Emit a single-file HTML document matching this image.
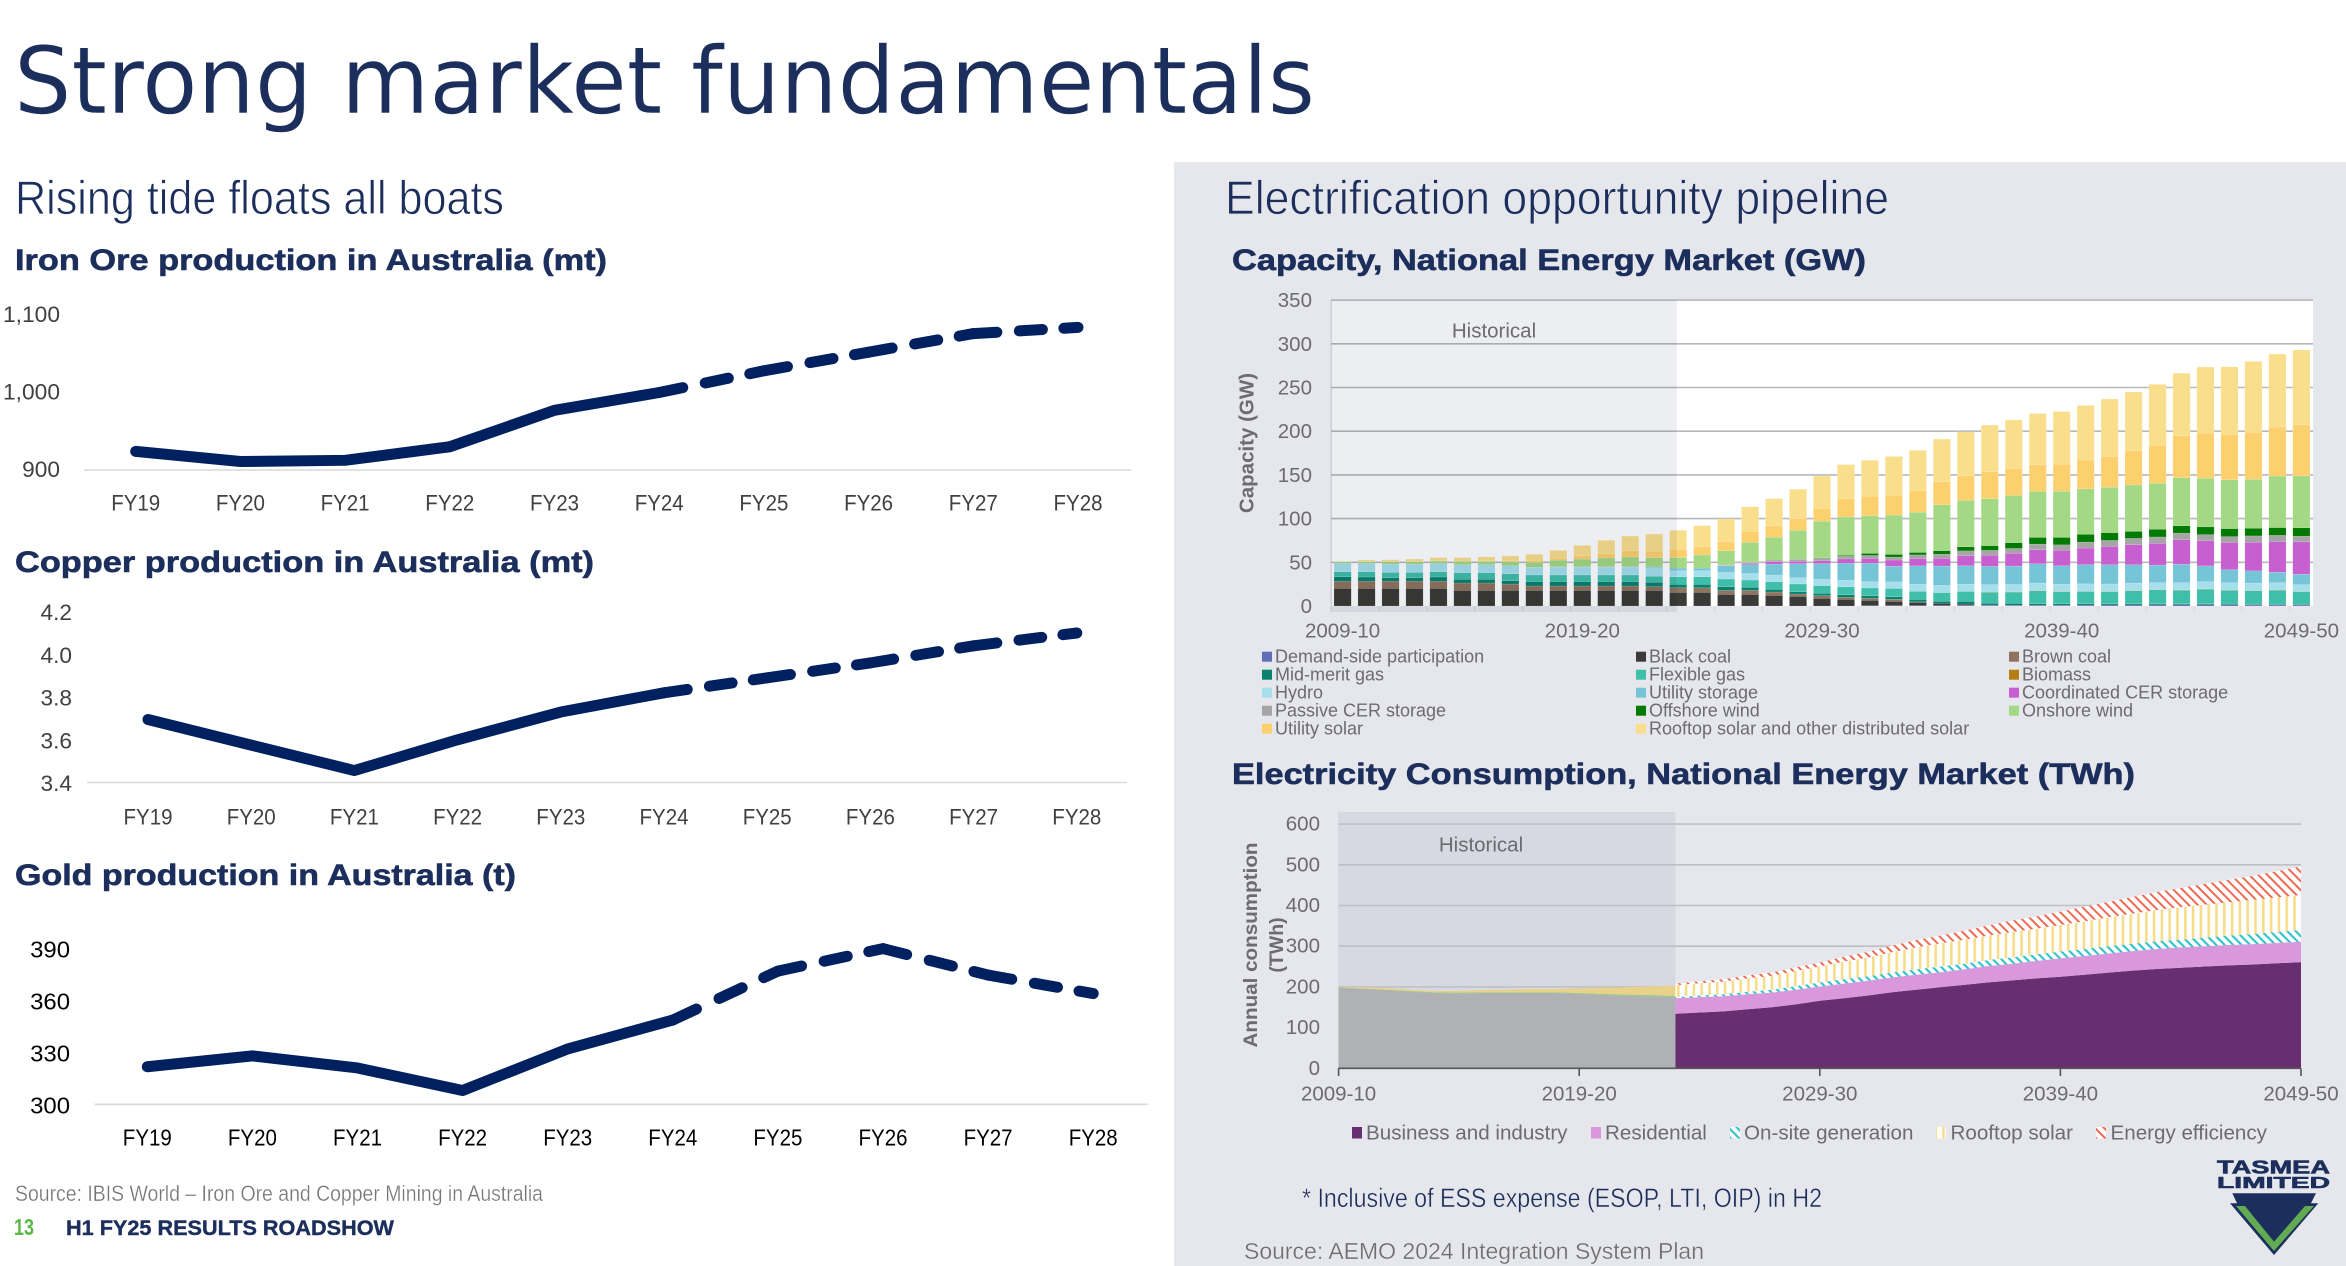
<!DOCTYPE html>
<html lang="en">
<head>
<meta charset="utf-8">
<title>Strong market fundamentals</title>
<style>
html,body{margin:0;padding:0;background:#fff;}
svg{display:block;}
text{font-family:"Liberation Sans",sans-serif;}
.navy{fill:#1c2f5c;}
.bold{font-weight:700;font-size:30px;stroke:#1c2f5c;stroke-width:.6px;}
</style>
</head>
<body>
<svg id="slide" xmlns="http://www.w3.org/2000/svg" width="2346" height="1266" viewBox="0 0 2346 1266">
  <defs>
    <pattern id="p-onsite" patternUnits="userSpaceOnUse" width="6" height="6" patternTransform="rotate(45)">
      <rect width="6" height="6" fill="#fff"/><rect width="6" height="2.2" fill="#35c3cb"/>
    </pattern>
    <pattern id="p-rooftop" patternUnits="userSpaceOnUse" width="7.8" height="8">
      <rect width="7.8" height="8" fill="#fff"/><rect width="2.6" height="8" fill="#f8dc8a"/>
    </pattern>
    <pattern id="p-ee" patternUnits="userSpaceOnUse" width="6.4" height="6.4" patternTransform="rotate(45)">
      <rect width="6.4" height="6.4" fill="#fff"/><rect width="6.4" height="2" fill="#ee6a52"/>
    </pattern>
  </defs>

  <rect x="0" y="0" width="2346" height="1266" fill="#ffffff"/>
  <rect x="1174" y="162" width="1172" height="1104" fill="#e6e7ec"/>

  <text x="14" y="113" textLength="1301" lengthAdjust="spacingAndGlyphs" style="font-family:'DejaVu Sans',sans-serif;font-size:93px;fill:#1c2f5c;stroke:#fff;stroke-width:.5px;">Strong market fundamentals</text>
  <text x="15" y="214" textLength="489" lengthAdjust="spacingAndGlyphs" style="font-size:47px;fill:#1c2f5c;stroke:#fff;stroke-width:.8px;">Rising tide floats all boats</text>
  <text x="1225" y="214" textLength="664" lengthAdjust="spacingAndGlyphs" style="font-size:47px;fill:#1c2f5c;stroke:#e6e7ec;stroke-width:.8px;">Electrification opportunity pipeline</text>

  <text class="navy bold" x="15" y="270" textLength="592" lengthAdjust="spacingAndGlyphs">Iron Ore production in Australia (mt)</text>
  <text class="navy bold" x="15" y="572" textLength="579" lengthAdjust="spacingAndGlyphs">Copper production in Australia (mt)</text>
  <text class="navy bold" x="15" y="885" textLength="501" lengthAdjust="spacingAndGlyphs">Gold production in Australia (t)</text>
  <text class="navy bold" x="1232" y="270" textLength="634" lengthAdjust="spacingAndGlyphs">Capacity, National Energy Market (GW)</text>
  <text class="navy bold" x="1232" y="784" textLength="903" lengthAdjust="spacingAndGlyphs">Electricity Consumption, National Energy Market (TWh)</text>

  <g id="iron-chart"></g>
  <g id="copper-chart"></g>
  <g id="gold-chart"></g>
  <g id="capacity-chart"></g>
  <g id="consumption-chart"></g>

  <text x="15" y="1201" textLength="528" lengthAdjust="spacingAndGlyphs" style="font-size:22px;fill:#767676;stroke:#fff;stroke-width:.3px;">Source: IBIS World – Iron Ore and Copper Mining in Australia</text>
  <text x="14" y="1235" textLength="20" lengthAdjust="spacingAndGlyphs" style="font-size:23px;font-weight:700;fill:#5cb847;">13</text>
  <text x="66" y="1235" textLength="328" lengthAdjust="spacingAndGlyphs" style="font-size:21px;font-weight:700;fill:#1c2f5c;stroke:#1c2f5c;stroke-width:.4px;">H1 FY25 RESULTS ROADSHOW</text>

  <text x="1302" y="1207" textLength="520" lengthAdjust="spacingAndGlyphs" style="font-size:27px;fill:#1c2f5c;stroke:#e6e7ec;stroke-width:.4px;">* Inclusive of ESS expense (ESOP, LTI, OIP) in H2</text>
  <text x="1244" y="1259" textLength="460" lengthAdjust="spacingAndGlyphs" style="font-size:23px;fill:#6d6d6f;stroke:#e6e7ec;stroke-width:.3px;">Source: AEMO 2024 Integration System Plan</text>

  <g>
    <text x="2217" y="1173.5" textLength="113" lengthAdjust="spacingAndGlyphs" style="font-size:18px;font-weight:700;fill:#1c2f5c;stroke:#1c2f5c;stroke-width:.6px;">TASMEA</text>
    <text x="2217" y="1188" textLength="113" lengthAdjust="spacingAndGlyphs" style="font-size:16px;font-weight:700;fill:#1c2f5c;stroke:#1c2f5c;stroke-width:.6px;">LIMITED</text>
    <polygon points="2230,1203.3 2237,1203.3 2232.3,1193.3 2316,1193.3 2311,1203.3 2318.3,1203.3 2274,1255" fill="#1c2f5c"/>
    <polygon points="2236,1206 2245,1206 2274,1241.7 2305,1206 2314,1206 2274,1251" fill="#62ab52"/>
  </g>
</svg>

<script>
/* ---------- Left-hand line charts ---------- */
const fiscalYears = ['FY19','FY20','FY21','FY22','FY23','FY24','FY25','FY26','FY27','FY28'];
const ironValues = [924,911,912.5,930,977,1000,1028,1052,1076,1084];
const ironTicks = [900,1000,1100];
const ironTickLabels = ['900','1,000','1,100'];
const copperValues = [3.695,3.575,3.456,3.6,3.73,3.82,3.89,3.96,4.04,4.10];
const copperTicks = [3.4,3.6,3.8,4.0,4.2];
const copperTickLabels = ['3.4','3.6','3.8','4.0','4.2'];
const goldValues = [321.7,328,321,308,332,348.7,377,390,374.7,364];
const goldTicks = [300,330,360,390];
const goldTickLabels = ['300','330','360','390'];
const solidThroughIndex = 5;

/* ---------- Capacity chart (GW), stack order bottom to top ---------- */
const yearCategories = ['2009-10','2010-11','2011-12','2012-13','2013-14','2014-15','2015-16','2016-17','2017-18','2018-19','2019-20','2020-21','2021-22','2022-23','2023-24','2024-25','2025-26','2026-27','2027-28','2028-29','2029-30','2030-31','2031-32','2032-33','2033-34','2034-35','2035-36','2036-37','2037-38','2038-39','2039-40','2040-41','2041-42','2042-43','2043-44','2044-45','2045-46','2046-47','2047-48','2048-49','2049-50'];
const xTickLabels = ['2009-10','2019-20','2029-30','2039-40','2049-50'];
const capacityTicks = [0,50,100,150,200,250,300,350];
const consumptionTicks = [0,100,200,300,400,500,600];

const demandSideGW = [0,0,0,0,0,0,0,0,0,0,0,0,0,0,0,0,0,0,0,0,0,0,0.3,0.4,0.5,0.6,0.7,0.8,0.9,1,1,1.1,1.2,1.2,1.3,1.5,1.5,1.3,1.2,1.2,1.2];
const blackCoalGW = [20.2,20.2,20.2,20.2,20.2,17.9,17.9,17.9,17.9,17.9,17.9,17.9,17.9,17.9,15.6,15.6,13.3,13.3,12.2,11,8.8,7.6,6.2,4.9,3.7,2.4,1.5,0.3,0,0,0,0,0,0,0,0,0,0,0,0,0];
const brownCoalGW = [8,8,8,8,8,8.4,8.4,7.2,5,5,5,5,5,4.2,5.2,5.2,4.6,4.6,3.8,2.7,3,2.3,2.3,2.5,0.5,0,0,0,0,0,0,0,0,0,0,0,0,0,0,0,0];
const midMeritGW = [5.3,5,4.2,4.2,5,4.2,4.2,3.8,5,5,5,5,5,5,3.8,3.8,4.2,3.4,3,2.7,2.7,3,3,2.7,2.7,2.3,3,2,2,1.5,1.5,1.5,1.3,1.3,1.2,1,1,1,0.8,0.8,0.8];
const flexibleGasGW = [5.7,6,6,6,6,7.6,7.6,8,7.6,7.6,7.6,7.6,7.6,7,8.8,8.8,8.8,8.4,8.8,8.8,8.8,9,8.8,9.5,9.5,10,11.4,12.5,13,15,13.7,14,14,15,16,15.6,16.7,15.6,15.5,16,14.5];
const biomassGW = [0,0,0,0,0,0,0,0,0,0,0,0,0,0,0,0,0,0,0,0,0,0,0,0,0,0,0,0.4,0.4,0.4,0.4,0.3,0.3,0.3,0.3,0.3,0.3,0.3,0.3,0.3,0.3];
const hydroGW = [9.5,9.5,9.5,9.5,9.5,9.1,9.1,9.1,8.8,9.1,9.1,9.1,9.1,9.5,7,7,7.6,7.6,7.6,7.2,7.2,7.6,7.2,7.6,8,8.4,8.4,8.4,8.4,8.4,8.4,8.4,8.4,8.4,8,8.4,8.4,8.4,8.4,8.4,7.6];
const utilityStorageGW = [0,0,0,0,0,0,0,0,0,0.3,0.3,0.3,0.5,1,3,3,7.6,10,12.5,16,18,19.4,21,18,21,22,21,21,21,22,21,22,22,21,20,21,18,15,14,12,12];
const coordinatedCerGW = [0,0,0,0,0,0,0,0,0,0,0,0,0,0,0,0,0.5,1.5,2.7,2.7,3.4,5,5.7,7,8.4,9,11.4,12.6,14.5,16,17.5,19,21,23,25,28,28.6,31,32.8,35,37];
const passiveCerGW = [0,0,0,0,0,0,0,0,0,0,0,0,0,0,0,0,0.3,1,2,2.3,2.7,3,3.4,3.4,4.2,4.6,5.7,5.7,5.7,6.5,6.5,6.9,6.9,7.2,7.2,7.6,7.2,6.9,7.2,7.2,6.5];
const offshoreWindGW = [0,0,0,0,0,0,0,0,0,0,0,0,0,0,0,0,0,0,0,0,0.4,1,2.3,3,2.7,4,4.6,5.3,6.5,7.6,8.4,8.8,8.8,8,8.8,8.4,8.8,9,8.8,8.8,9.5];
const onshoreWindGW = [1.9,2,2.7,2.7,2.7,3.8,3.8,4.6,5.7,7.6,8.8,10,11,10.7,12,15,16.4,23,26,33,42,44,43,45,46,52.6,53,53.7,54,52.6,53,52,52,53,52.6,55,55.6,56,56,59,59.5];
const utilitySolarGW = [0,0.4,0.4,0.4,0.5,0.5,0.6,1,2,2.3,3.8,5,6.9,7.6,9.5,9.5,10.3,12.6,13.3,13.3,14.9,20.6,22.5,22.9,24.4,26.3,28.2,30.9,30.9,30.5,30.9,33,35.4,39,43.4,48,51.8,51.8,53.7,56,58.3];
const rooftopSolarGW = [0.3,1.5,1.9,2.7,3.4,3.8,4.6,5.7,7.2,8.8,11.8,15.2,17,19.4,21.7,24,26,28.2,30.9,33.9,37,39.3,41,44.2,46.5,48.8,50.3,53.4,55.6,58.7,60.2,62.5,65.5,67.5,69.7,71.6,75.5,77.4,81.2,83.5,85.7];

const capacitySeriesNames = ['Demand-side participation','Black coal','Brown coal','Mid-merit gas','Flexible gas','Biomass','Hydro','Utility storage','Coordinated CER storage','Passive CER storage','Offshore wind','Onshore wind','Utility solar','Rooftop solar and other distributed solar'];
const capacitySeriesColors = ['#5f6fb8','#3a3b38','#8f745e','#08826f','#3fbfa9','#b47e10','#a5dfeb','#75c5d6','#c85fd0','#a5a5a5','#007a00','#a3d884','#fdd06e','#f9df8c'];
const capacitySeriesValues = [demandSideGW,blackCoalGW,brownCoalGW,midMeritGW,flexibleGasGW,biomassGW,hydroGW,utilityStorageGW,coordinatedCerGW,passiveCerGW,offshoreWindGW,onshoreWindGW,utilitySolarGW,rooftopSolarGW];

/* ---------- Consumption chart (TWh) ---------- */
const historicalGrid = [198,195,192,188,185,184,185,185,185,185,183,180,178,177,175];
const historicalGreen = [1,1,1,2,2,2,2,2,2,2,2,3,3,3,3];
const historicalYellow = [1,3,4,3,3,4,5,6,8,8,11,15,18,21,25];
const businessTWh = [134,137,140,145,150,157,166,172,179,187,193,199,205,211,216,221,225,230,235,240,244,247,250,253,255,258,261];
const residentialTWh = [38,38,37,37,36,36,35,36,36,36,37,37,38,40,41,43,45,46,47,48,49,50,50,50,50,50,50];
const onsiteTWh = [3,4,5,6,7,9,10,11,11,12,13,14,14,15,16,16,17,17,18,18,19,19,21,23,25,27,29];
const rooftopTWh = [29,30,31,33,34,37,39,43,46,50,54,57,59,60,62,63,65,68,71,74,77,80,81,82,84,85,86];
const efficiencyTWh = [4,5,6,7,8,9,10,12,14,16,18,19,22,25,28,30,33,36,38,41,44,47,51,55,59,64,70];
const consumptionSeriesNames = ['Business and industry','Residential','On-site generation','Rooftop solar','Energy efficiency'];
const consumptionSeriesFills = ['#672f72','#da98dc','url(#p-onsite)','url(#p-rooftop)','url(#p-ee)'];
const consumptionSeriesValues = [businessTWh,residentialTWh,onsiteTWh,rooftopTWh,efficiencyTWh];
const projectionStartIndex = 14;

/* ---------- Drawing helpers ---------- */
const SVGNS = 'http://www.w3.org/2000/svg';
function makeEl(tag, parent, name) {
  const el = document.createElementNS(SVGNS, tag);
  
  
  parent.appendChild(el);
  return el;
}
function addText(parent, name, str, x, y, size, color, anchor, width, extraStyle) {
  const el = makeEl('text', parent, name);
  el.setAttribute('x', x);
  el.setAttribute('y', y);
  el.setAttribute('text-anchor', anchor || 'start');
  el.setAttribute('dominant-baseline', 'central');
  el.setAttribute('style', 'font-size:' + size + 'px;fill:' + color + ';' + (extraStyle || ''));
  if (width) {
    el.setAttribute('textLength', width);
    el.setAttribute('lengthAdjust', 'spacingAndGlyphs');
  }
  el.textContent = str;
  return el;
}
function addLine(parent, name, x1, y1, x2, y2, color, w) {
  const el = makeEl('line', parent, name);
  el.setAttribute('x1', x1);
  el.setAttribute('y1', y1);
  el.setAttribute('x2', x2);
  el.setAttribute('y2', y2);
  el.setAttribute('stroke', color);
  el.setAttribute('stroke-width', w);
  return el;
}
function addRect(parent, name, x, y, w, h, fill) {
  const el = makeEl('rect', parent, name);
  el.setAttribute('x', x);
  el.setAttribute('y', y);
  el.setAttribute('width', w);
  el.setAttribute('height', h);
  el.setAttribute('fill', fill);
  return el;
}

/* ---------- Line chart renderer ---------- */
function drawLineChart(id, prefix, values, ticks, tickLabels, geom) {
  const g = document.getElementById(id);
  const xScale = i => geom.x0 + geom.dx * i;
  const yScale = v => geom.baseY - (v - ticks[0]) * geom.pxPerUnit;
  addLine(g, prefix + '-baseline', geom.axisL, geom.baseY, geom.axisR, geom.baseY, '#d9d9d9', 1.6);
  ticks.forEach((t, i) => {
    const label = tickLabels[i];
    addText(g, prefix + '-y-tick-' + label, label, geom.tickR, yScale(t) + geom.tickDy, geom.fs, geom.color, 'end', label.length * geom.charW + (label.indexOf(',') >= 0 ? -6 : 0) - (label.indexOf('.') >= 0 ? 6 : 0));
  });
  fiscalYears.forEach((fy, i) => {
    addText(g, prefix + '-x-label-' + fy, fy, xScale(i), geom.labelY, geom.fs, geom.color, 'middle', 49);
  });
  const solid = makeEl('path', g, prefix + '-line-actual');
  let d = '';
  for (let i = 0; i <= solidThroughIndex; i++) d += (i ? 'L' : 'M') + xScale(i) + ' ' + yScale(values[i]) + ' ';
  solid.setAttribute('d', d);
  solid.setAttribute('fill', 'none');
  solid.setAttribute('stroke', '#00205f');
  solid.setAttribute('stroke-width', 11);
  solid.setAttribute('stroke-linecap', 'round');
  solid.setAttribute('stroke-linejoin', 'round');
  for (let i = solidThroughIndex; i < values.length - 1; i++) {
    const x1 = xScale(i), y1 = yScale(values[i]), x2 = xScale(i + 1), y2 = yScale(values[i + 1]);
    const len = Math.hypot(x2 - x1, y2 - y1);
    const seg = makeEl('line', g, prefix + '-line-forecast-' + fiscalYears[i + 1]);
    seg.setAttribute('x1', x1);
    seg.setAttribute('y1', y1);
    seg.setAttribute('x2', x2);
    seg.setAttribute('y2', y2);
    seg.setAttribute('stroke', '#00205f');
    seg.setAttribute('stroke-width', 11);
    seg.setAttribute('stroke-linecap', 'round');
    seg.setAttribute('stroke-dasharray', [0.225 * len, 0.215 * len, 0.22 * len, 0.205 * len, 0.135 * len].join(' '));
  }
}
drawLineChart('iron-chart', 'iron', ironValues, ironTicks, ironTickLabels, {x0:135.7, dx:104.7, baseY:470, pxPerUnit:0.775, axisL:84, axisR:1131, tickR:60, tickDy:-0.5, labelY:503, fs:22, color:'#404040', charW:12.6});
drawLineChart('copper-chart', 'copper', copperValues, copperTicks, copperTickLabels, {x0:148, dx:103.2, baseY:782.5, pxPerUnit:213.6, axisL:87, axisR:1127, tickR:72, tickDy:1, labelY:817, fs:22, color:'#404040', charW:12.5});
drawLineChart('gold-chart', 'gold', goldValues, goldTicks, goldTickLabels, {x0:147.3, dx:105.1, baseY:1104.3, pxPerUnit:1.73, axisL:94.6, axisR:1147.5, tickR:70, tickDy:1, labelY:1137.5, fs:23, color:'#000000', charW:13.3});

/* ---------- Capacity stacked bars ---------- */
(function () {
  const g = document.getElementById('capacity-chart');
  const xScale = i => 1342.6 + 23.97 * i;
  const yScale = v => 606 - v * 0.874;
  const barW = 17.2;
  addRect(g, 'capacity-plot-area', 1331, 300, 982, 306, '#ffffff');
  addLine(g, 'capacity-y-axis-line', 1331, 300, 1331, 612, '#d5d6db', 1.5);
  capacityTicks.forEach(t => {
    if (t > 0) addLine(g, 'capacity-gridline-' + t, 1331, yScale(t), 2313, yScale(t), '#b6b7bb', 1.6);
    addText(g, 'capacity-y-tick-' + t, String(t), 1312, yScale(t) + 0.5, 20.5, '#6b6b70', 'end');
  });
  for (let k = 0; k <= 20; k++) {
    const tx = 1331 + 47.94 * k;
    addLine(g, 'capacity-x-tick-mark', tx, 606, tx, 612, '#d8d9de', 1.2);
  }
  yearCategories.forEach((year, i) => {
    let acc = 0;
    capacitySeriesValues.forEach((series, s) => {
      const v = series[i];
      if (v > 0) {
        const top = yScale(acc + v);
        const bar = addRect(g, 'bar-' + capacitySeriesNames[s].toLowerCase().replace(/[^a-z0-9]+/g, '-') + '-' + year, xScale(i) - barW / 2, top, barW, yScale(acc) - top, capacitySeriesColors[s]);
        bar.setAttribute('stroke', '#ffffff');
        bar.setAttribute('stroke-opacity', '0.3');
        bar.setAttribute('stroke-width', '0.4');
      }
      acc += v;
    });
  });
  const band = addRect(g, 'capacity-historical-band', 1331, 300, 345.7, 312, '#edeef2');
  band.setAttribute('style', 'mix-blend-mode:multiply');
  addText(g, 'capacity-historical-label', 'Historical', 1494, 331, 20.5, '#6b6b70', 'middle');
  xTickLabels.forEach(label => {
    addText(g, 'capacity-x-label-' + label, label, xScale(yearCategories.indexOf(label)), 631, 20.5, '#6b6b70', 'middle');
  });
  const ax = addText(g, 'capacity-y-axis-title', 'Capacity (GW)', 1247, 443, 20.5, '#6b6b70', 'middle', 0, 'font-weight:700;');
  ax.setAttribute('transform', 'rotate(-90 1247 443)');
  const legendCols = [1262, 1636, 2009];
  capacitySeriesNames.forEach((name, s) => {
    const col = s % 3, row = Math.floor(s / 3);
    const ly = 656.7 + 18 * row;
    addRect(g, 'legend-swatch-' + name.toLowerCase().replace(/[^a-z0-9]+/g, '-'), legendCols[col], ly - 5, 10, 10, capacitySeriesColors[s]);
    addText(g, 'legend-entry-' + name.toLowerCase().replace(/[^a-z0-9]+/g, '-'), name, legendCols[col] + 13, ly, 18, '#6b6b70');
  });
})();

/* ---------- Consumption stacked areas ---------- */
(function () {
  const g = document.getElementById('consumption-chart');
  const xScale = i => 1338.6 + 24.06 * i;
  const yScale = v => 1068.3 - v * 0.407;
  addRect(g, 'consumption-historical-band', 1338, 812, 337.4, 256.3, '#d6d9e1');
  consumptionTicks.forEach(t => {
    if (t > 0) addLine(g, 'consumption-gridline-' + t, 1338.6, yScale(t), 2301, yScale(t), '#bfc0c4', 1.6);
    addText(g, 'consumption-y-tick-' + t, String(t), 1320, yScale(t), 20.5, '#6b6b70', 'end');
  });
  function areaPath(name, fill, bottoms, tops, startIdx) {
    let d = '';
    tops.forEach((v, k) => { d += (k ? 'L' : 'M') + xScale(startIdx + k) + ' ' + yScale(v) + ' '; });
    for (let k = bottoms.length - 1; k >= 0; k--) d += 'L' + xScale(startIdx + k) + ' ' + yScale(bottoms[k]) + ' ';
    const el = makeEl('path', g, name);
    el.setAttribute('d', d + 'Z');
    el.setAttribute('fill', fill);
    return el;
  }
  let histBase = historicalGrid.map(() => 0);
  [['historical-grid-area', historicalGrid, '#b0b1b4'], ['historical-green-area', historicalGreen, '#9ccb85'], ['historical-yellow-area', historicalYellow, '#e8d28a']].forEach(item => {
    const tops = histBase.map((b, i) => b + item[1][i]);
    areaPath(item[0], item[2], histBase, tops, 0);
    histBase = tops;
  });
  let base = businessTWh.map(() => 0);
  consumptionSeriesValues.forEach((series, s) => {
    const tops = base.map((b, i) => b + series[i]);
    areaPath('area-' + consumptionSeriesNames[s].toLowerCase().replace(/[^a-z0-9]+/g, '-'), consumptionSeriesFills[s], base, tops, projectionStartIndex);
    base = tops;
  });
  addLine(g, 'consumption-x-axis-line', 1338.6, 1068.3, 2301, 1068.3, '#55565a', 1.6);
  xTickLabels.forEach(label => {
    const tx = xScale(yearCategories.indexOf(label));
    addLine(g, 'consumption-x-tick-' + label, tx, 1068.3, tx, 1076, '#55565a', 1.6);
    addText(g, 'consumption-x-label-' + label, label, tx, 1094, 20.5, '#6b6b70', 'middle');
  });
  addText(g, 'consumption-historical-label', 'Historical', 1481, 845, 20.5, '#6b6b70', 'middle');
  const a1 = addText(g, 'consumption-y-axis-title-line1', 'Annual consumption', 1251, 945, 19.5, '#6b6b70', 'middle', 205, 'font-weight:700;');
  a1.setAttribute('transform', 'rotate(-90 1251 945)');
  const a2 = addText(g, 'consumption-y-axis-title-line2', '(TWh)', 1277, 945, 19.5, '#6b6b70', 'middle', 0, 'font-weight:700;');
  a2.setAttribute('transform', 'rotate(-90 1277 945)');
  const swatchX = [1352, 1591, 1730, 1936, 2096];
  const legendTextX = [1366, 1605, 1744, 1950.5, 2110.5];
  consumptionSeriesNames.forEach((name, s) => {
    const slug = name.toLowerCase().replace(/[^a-z0-9]+/g, '-');
    addRect(g, 'legend-swatch-' + slug, swatchX[s], 1127, 10, 11.5, consumptionSeriesFills[s]);
    addText(g, 'legend-entry-' + slug, name, legendTextX[s], 1133, 20.6, '#6b6b70');
  });
})();
</script>
</body>
</html>
